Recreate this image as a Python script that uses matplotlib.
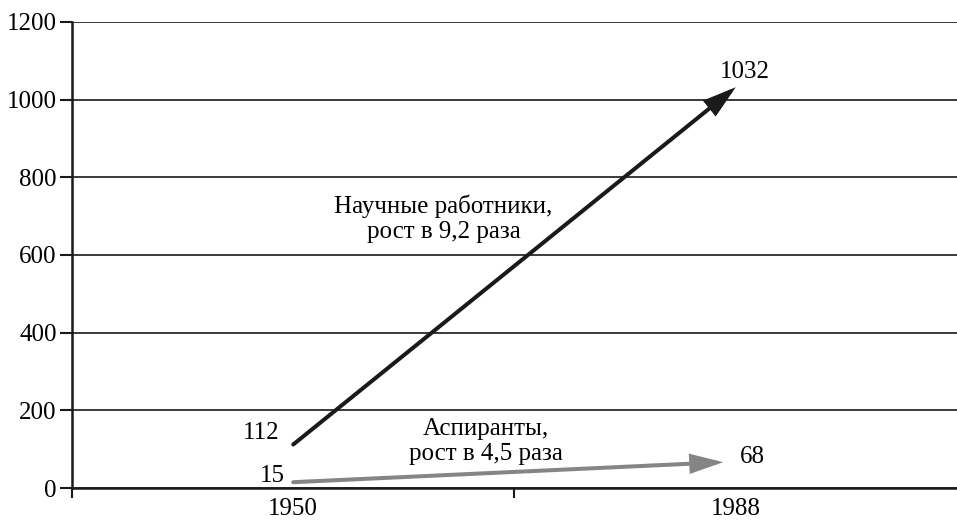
import matplotlib.pyplot as plt

plt.rcParams['font.family'] = ['Liberation Serif', 'DejaVu Serif']

years = ['1950', '1988']
scientists = [112, 1032]
postgrads = [15, 68]
sci_label = 'Научные работники,\nрост в 9,2 раза'
pg_label = 'Аспиранты,\nрост в 4,5 раза'

fig = plt.figure(figsize=(9.57, 5.22), dpi=100)
ax = fig.add_axes([0.0752, 0.0651, 0.9248, 0.8928])

xs = [0.5, 1.5]

# arrows
head = '-|>,head_length=1.0,head_width=0.3'
ax.annotate('', xy=(xs[1], scientists[1]), xytext=(xs[0], scientists[0]),
            arrowprops=dict(arrowstyle=head, mutation_scale=18, joinstyle='miter',
                            color='#1a1a1a', lw=2.9, shrinkA=0, shrinkB=0),
            zorder=3)
ax.annotate('', xy=(xs[1], postgrads[1]), xytext=(xs[0], postgrads[0]),
            arrowprops=dict(arrowstyle=head, mutation_scale=18, joinstyle='miter',
                            color='#858585', lw=2.9, shrinkA=0, shrinkB=9),
            zorder=3)

fs = 18
# value labels
ax.text(xs[0] - 0.03, scientists[0] + 30, str(scientists[0]), ha='right', va='center', fontsize=fs)
ax.text(xs[0] - 0.02, postgrads[0] + 17, str(postgrads[0]), ha='right', va='center', fontsize=fs)
ax.text(xs[1] + 0.02, scientists[1] + 38, str(scientists[1]), ha='center', va='center', fontsize=fs)
ax.text(xs[1] + 0.01, postgrads[1] + 12, str(postgrads[1]), ha='left', va='center', fontsize=fs)

ax.text(0.84, 694, sci_label, ha='center', va='center', fontsize=fs, linespacing=1.2)
ax.text(0.935, 120, pg_label, ha='center', va='center', fontsize=fs, linespacing=1.2)

ax.set_xlim(0, 2)
ax.set_ylim(0, 1200)
ax.set_yticks(range(0, 1201, 200))
ax.yaxis.grid(True, color='#3a3a3a', lw=1.4)
ax.set_axisbelow(True)

ax.set_xticks([0, 1])
ax.set_xticklabels([])
ax.set_xticks(xs, minor=True)
ax.set_xticklabels(years, minor=True)
ax.tick_params(axis='x', which='minor', length=0, pad=7, labelsize=fs)
ax.tick_params(axis='x', which='major', length=7, width=1.5, color='#1a1a1a')
ax.tick_params(axis='y', length=9, width=1.5, labelsize=fs, pad=2, color='#1a1a1a')

for s in ['top', 'right']:
    ax.spines[s].set_visible(False)
for s in ['left', 'bottom']:
    ax.spines[s].set_linewidth(1.8)
    ax.spines[s].set_color('#1a1a1a')

fig.savefig('out.png', dpi=100)
